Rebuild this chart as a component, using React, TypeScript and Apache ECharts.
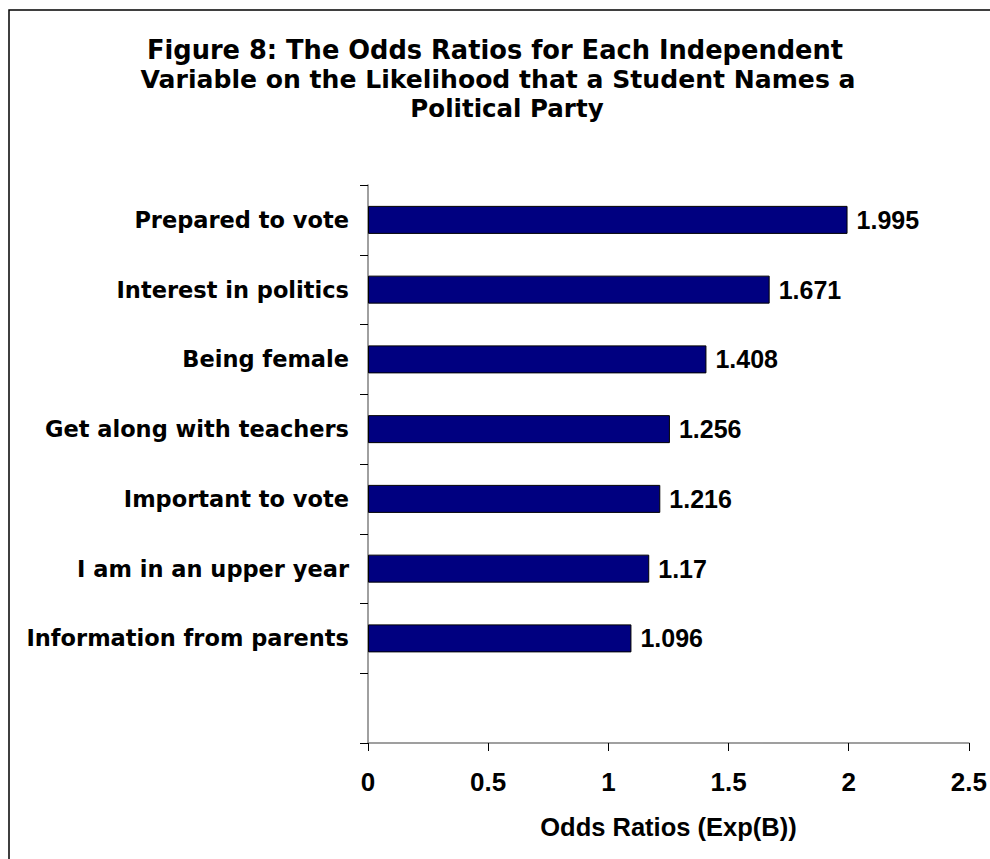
import React, { useEffect, useRef } from "react";
import * as echarts from "echarts";

const titleLines = [
  "Figure 8: The Odds Ratios for Each Independent",
  "Variable on the Likelihood that a Student Names a",
  "Political Party",
];
const categories = [
  "Prepared to vote",
  "Interest in politics",
  "Being female",
  "Get along with teachers",
  "Important to vote",
  "I am in an upper year",
  "Information from parents",
  "",
];
const oddsRatios: (number | null)[] = [1.995, 1.671, 1.408, 1.256, 1.216, 1.17, 1.096, null];
const xTicks = { min: 0, max: 2.5, interval: 0.5 };
const xAxisName = "Odds Ratios (Exp(B))";

const FONT = "'Liberation Sans', Arial, sans-serif";
const WIDE = "'DejaVu Sans', 'Liberation Sans', sans-serif";
const titleX = [495, 498, 507];
const titleSize = [25.7, 25.1, 24.5];

export default function App() {
  const ref = useRef<HTMLDivElement>(null);
  useEffect(() => {
    if (!ref.current) return;
    const chart = echarts.init(ref.current, undefined, { renderer: "svg" });
    chart.setOption({
      animation: false,
      backgroundColor: "#ffffff",
      textStyle: { fontFamily: FONT },
      graphic: [
        {
          type: "rect",
          shape: { x: 9, y: 10, width: 1000, height: 900 },
          style: { fill: "none", stroke: "#000", lineWidth: 1.5 },
          silent: true,
        },
        ...titleLines.map((t, i) => ({
          type: "text",
          x: titleX[i],
          y: 50 + i * 29,
          style: {
            text: t,
            fontFamily: WIDE,
            fontSize: titleSize[i],
            fontWeight: "bold",
            fill: "#000",
            textAlign: "center",
            textVerticalAlign: "middle",
          },
        })),
      ],
      grid: { left: 368, right: 21, top: 185, bottom: 116, containLabel: false },
      xAxis: {
        type: "value",
        min: xTicks.min,
        max: xTicks.max,
        interval: xTicks.interval,
        name: xAxisName,
        nameLocation: "middle",
        nameGap: 71,
        nameTextStyle: { fontFamily: FONT, fontSize: 25.5, fontWeight: "bold", color: "#000" },
        axisLine: { show: true, lineStyle: { color: "#808080", width: 1.5 } },
        axisTick: { show: true, length: 8, lineStyle: { color: "#000", width: 1 } },
        axisLabel: {
          margin: 26,
          fontFamily: FONT,
          fontSize: 26,
          fontWeight: "bold",
          color: "#000",
        },
        splitLine: { show: false },
      },
      yAxis: {
        type: "category",
        data: categories,
        inverse: true,
        axisLine: { show: true, lineStyle: { color: "#808080", width: 1.5 } },
        axisTick: { show: true, length: 8, lineStyle: { color: "#000", width: 1 } },
        axisLabel: {
          margin: 19,
          fontFamily: WIDE,
          fontSize: 22.5,
          fontWeight: "bold",
          color: "#000",
        },
        splitLine: { show: false },
      },
      series: [
        {
          type: "bar",
          data: oddsRatios,
          barWidth: 28,
          itemStyle: { color: "#000080", borderColor: "#000", borderWidth: 1 },
          label: {
            show: true,
            position: "right",
            distance: 9,
            fontFamily: FONT,
            fontSize: 25,
            fontWeight: "bold",
            color: "#000",
          },
        },
      ],
    });
    return () => chart.dispose();
  }, []);
  return (
    <div
      ref={ref}
      style={{ position: "fixed", left: 0, top: 0, width: 990, height: 859, background: "#fff" }}
    />
  );
}
